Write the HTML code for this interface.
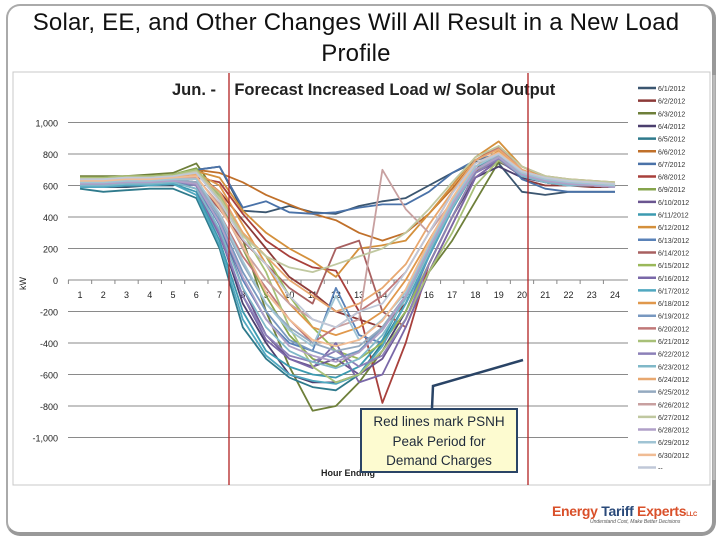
<!DOCTYPE html>
<html><head><meta charset="utf-8"><style>
body{margin:0;width:720px;height:540px;background:#fff;overflow:hidden;font-family:"Liberation Sans",sans-serif;position:relative}
.title{position:absolute;left:0;top:7px;width:712px;text-align:center;font-size:24px;line-height:31px;color:#111;letter-spacing:0.2px}
</style></head><body>
<div style="position:absolute;left:6px;top:4px;width:704px;height:526px;border:2px solid #aaa;border-radius:14px;border-right:4px solid #999;border-bottom:4px solid #999"></div>
<div class="title">Solar, EE, and Other Changes Will All Result in a New Load<br>Profile</div>
<svg id="chart" width="720" height="540" style="position:absolute;left:0;top:0"></svg>
<div style="position:absolute;left:360px;top:408px;width:154px;height:59px;background:#fdfbd0;border:2px solid #2a4466;font-size:13.5px;line-height:19.5px;text-align:center;color:#1f2a3a;padding-top:2px">Red lines mark PSNH<br>Peak Period for<br>Demand Charges</div>
<div style="position:absolute;left:552px;top:503px;font-weight:bold;font-size:14px;color:#d9502a;letter-spacing:-0.3px">Energy <span style="color:#2a4a7a">Tariff</span> Experts<span style="font-size:6px">LLC</span></div>
<div style="position:absolute;left:590px;top:519px;font-size:5px;color:#555;font-style:italic">Understand Cost, Make Better Decisions</div>
<script>
const hours=["1","2","3","4","5","6","7","8","9","10","11","12","13","14","15","16","17","18","19","20","21","22","23","24"];
const yTicks=[1000,800,600,400,200,0,-200,-400,-600,-800,-1000];
const yTickLabels=["1,000","800","600","400","200","0","-200","-400","-600","-800","-1,000"];
const seriesNames=["6/1/2012","6/2/2012","6/3/2012","6/4/2012","6/5/2012","6/6/2012","6/7/2012","6/8/2012","6/9/2012","6/10/2012","6/11/2012","6/12/2012","6/13/2012","6/14/2012","6/15/2012","6/16/2012","6/17/2012","6/18/2012","6/19/2012","6/20/2012","6/21/2012","6/22/2012","6/23/2012","6/24/2012","6/25/2012","6/26/2012","6/27/2012","6/28/2012","6/29/2012","6/30/2012","--"];
const seriesColors=["#3b5670","#8c3a38","#6e7f3a","#4b3f6e","#2f7a8c","#c0702a","#4a72a8","#a8403c","#86a44c","#6a5590","#3c9ab0","#d4903c","#5a82b8","#a86060","#9ab85a","#7a68a8","#50a8c0","#e0984c","#7898c0","#c07878","#a8c078","#8c80b8","#80b8c8","#e8a870","#94aac0","#c8a0a0","#c0c8a0","#b0a0c8","#a0c4d4","#f0bc94","#c0c8d8"];
const v1=[600,590,590,600,600,700,720,440,430,470,430,420,470,500,520,600,680,750,740,560,540,560,560,560];
const v2=[640,640,650,650,660,680,560,380,200,20,-80,-200,-250,-300,-150,150,450,700,820,640,600,600,590,590];
const v3=[660,660,660,670,680,740,520,260,-200,-550,-830,-800,-650,-450,-250,50,250,500,750,680,640,620,610,600];
const v4=[620,630,640,650,660,600,300,-150,-400,-600,-650,-650,-600,-450,-200,100,400,650,720,650,620,600,600,600];
const v5=[580,560,570,580,580,520,200,-300,-500,-620,-680,-700,-600,-400,-150,150,450,700,760,660,620,600,600,590];
const v6=[650,650,660,660,670,700,680,620,540,480,420,380,300,250,300,420,580,760,850,720,660,640,630,620];
const v7=[600,600,610,620,620,700,720,460,500,430,420,430,460,480,480,560,680,760,800,640,580,560,560,560];
const v8=[630,630,640,640,650,650,620,420,250,150,80,60,-200,-780,-400,100,400,680,820,700,640,620,610,600];
const v9=[650,650,660,660,670,710,500,200,-100,-350,-500,-550,-450,-300,-100,200,450,700,780,680,640,620,610,600];
const v10=[610,610,620,620,630,620,350,-50,-350,-500,-550,-500,-600,-500,-250,100,400,680,760,660,620,600,600,590];
const v11=[590,590,600,600,610,560,250,-200,-450,-550,-600,-620,-550,-380,-100,200,500,720,780,660,620,600,600,590];
const v12=[640,640,650,650,660,690,650,440,300,200,120,20,200,220,250,420,600,780,880,720,650,630,620,610];
const v13=[600,600,610,610,620,600,350,0,-250,-400,-450,-50,-350,-400,-200,150,450,700,770,660,620,600,600,590];
const v14=[620,620,630,630,640,620,450,250,100,-50,-150,200,250,-200,-300,50,350,650,760,660,620,600,600,590];
const v15=[630,630,640,640,650,680,520,300,150,-100,-300,-450,-500,-400,-200,100,400,680,780,680,640,620,610,600];
const v16=[600,600,610,610,620,580,280,-100,-380,-500,-560,-400,-650,-600,-300,50,350,650,760,660,620,600,600,590];
const v17=[590,590,600,600,610,540,220,-250,-480,-600,-640,-660,-600,-420,-150,150,450,700,780,660,620,600,600,590];
const v18=[640,640,650,650,660,680,600,350,100,-150,-300,-350,-300,-200,0,250,500,720,820,690,640,620,610,600];
const v19=[610,610,620,620,630,600,380,50,-200,-380,-450,-500,-450,-300,-100,200,480,700,780,670,630,610,600,590];
const v20=[620,620,630,630,640,620,420,150,-50,-250,-400,-300,-200,-100,50,300,550,760,840,700,650,630,620,610];
const v21=[650,650,660,660,670,700,540,300,50,-300,-550,-650,-600,-450,-250,50,300,600,760,680,640,620,610,600];
const v22=[610,610,620,620,630,600,300,-100,-350,-480,-520,-450,-550,-480,-250,100,400,680,770,660,620,600,600,590];
const v23=[600,600,610,610,620,580,320,-50,-300,-450,-520,-560,-500,-350,-120,180,460,700,780,660,620,600,600,590];
const v24=[640,640,650,650,660,670,560,300,150,0,-100,-200,-150,-50,100,350,560,760,830,700,650,630,620,610];
const v25=[620,620,630,630,640,620,400,100,-150,-300,-400,-450,-420,-300,-100,200,480,700,790,680,640,620,610,600];
const v26=[630,630,640,640,650,650,480,200,0,-150,-250,-300,-250,700,450,300,500,720,800,690,640,620,610,600];
const v27=[640,640,650,650,660,690,520,280,150,80,50,100,150,200,300,450,620,780,850,720,660,640,630,620];
const v28=[610,610,620,620,630,610,360,20,-250,-420,-480,-520,-460,-320,-100,200,480,700,780,670,630,610,600,590];
const v29=[620,620,630,630,640,640,420,120,-150,-320,-420,-100,-380,-250,-80,220,500,720,800,680,640,620,610,600];
const v30=[630,630,640,640,650,660,460,220,-80,-250,-380,-420,-380,-260,-60,240,520,740,810,690,650,630,620,610];
const v31=[640,640,650,650,660,680,500,260,100,-100,-250,-300,-200,-150,50,300,550,740,800,690,650,630,620,610];
const seriesValues=[v1,v2,v3,v4,v5,v6,v7,v8,v9,v10,v11,v12,v13,v14,v15,v16,v17,v18,v19,v20,v21,v22,v23,v24,v25,v26,v27,v28,v29,v30,v31];

const NS="http://www.w3.org/2000/svg";
const svg=document.getElementById('chart');
function mk(t,a,p){const e=document.createElementNS(NS,t);for(const k in a)e.setAttribute(k,a[k]);(p||svg).appendChild(e);return e;}
const plotL=68,plotR=628;
function xs(i){return 80+i*(615-80)/23;}
function ys(v){return 280-v*0.1575;}

let fr=mk('rect',{x:13,y:72,width:697,height:413,fill:'none',stroke:'#c8c8c8','stroke-width':1});


let t=mk('text',{x:172,y:95,'font-size':16.5,'font-weight':'bold',fill:'#222'});t.textContent='Jun. -    Forecast Increased Load w/ Solar Output';


t.setAttribute('xml:space','preserve');
t.style.whiteSpace='pre';
yTicks.forEach((v,i)=>{
  if(v!==0){let g=mk('line',{x1:plotL,x2:plotR,y1:ys(v),y2:ys(v),stroke:'#8a8a8a','stroke-width':1});
  
  }
  let l=mk('text',{x:58,y:ys(v)+4,'font-size':9,'text-anchor':'end',fill:'#222'});l.textContent=yTickLabels[i];
  
  
});
let ax=mk('line',{x1:plotL,x2:plotR,y1:ys(0),y2:ys(0),stroke:'#888'});


hours.forEach((h,i)=>{
  let l=mk('text',{x:xs(i),y:ys(0)+18,'font-size':9,'text-anchor':'middle',fill:'#222'});l.textContent=h;
  
  
  let tk=mk('line',{x1:xs(i)-11.6,x2:xs(i)-11.6,y1:ys(0),y2:ys(0)+4,stroke:'#888'});
  
  
});
let yl=mk('text',{x:0,y:0,'font-size':9,fill:'#222',transform:'translate(26,290) rotate(-90)'});yl.textContent='kW';


let xl=mk('text',{x:321,y:476,'font-size':9,'font-weight':'bold',fill:'#222'});xl.textContent='Hour Ending';



seriesValues.forEach((vals,s)=>{
  const d=vals.map((v,i)=>(i?'L':'M')+xs(i).toFixed(1)+' '+ys(v).toFixed(1)).join(' ');
  let p=mk('path',{d:d,fill:'none',stroke:seriesColors[s],'stroke-width':1.8,'stroke-linejoin':'round'});
  
  
  let ly=88+s*12.65;
  let ll=mk('line',{x1:638,x2:656,y1:ly,y2:ly,stroke:seriesColors[s],'stroke-width':2.5});
  
  
  let lt=mk('text',{x:658,y:ly+3,'font-size':7,fill:'#333'});lt.textContent=seriesNames[s];
  
  
});
let sb=mk('line',{x1:714,x2:714,y1:75,y2:480,stroke:'#bbb','stroke-width':3});


[229,528].forEach(x=>{
  let r=mk('line',{x1:x,x2:x,y1:73,y2:485,stroke:'#b22222','stroke-width':1.3});
  
  
});
let ld=mk('polyline',{points:'432,408 433,386 523,360',fill:'none',stroke:'#2a4466','stroke-width':2.5});


</script>
</body></html>
